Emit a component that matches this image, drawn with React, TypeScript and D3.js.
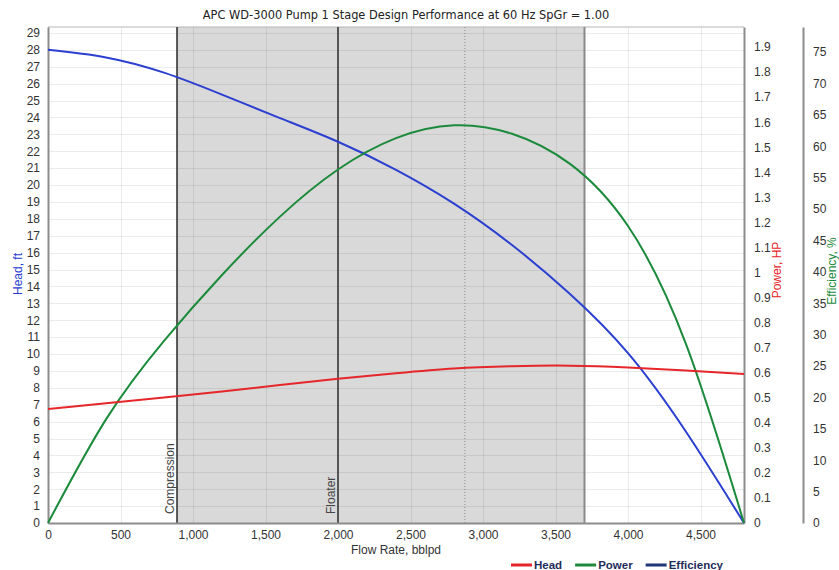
import React, { useEffect, useRef } from "react";
import * as d3 from "d3";

const flowRate = [0, 400, 800, 1200, 1600, 2000, 2400, 2800, 3200, 3600, 4000, 4400, 4800];
const headFt = [28.0, 27.55, 26.65, 25.35, 23.96, 22.56, 20.9, 18.9, 16.45, 13.55, 10.05, 5.4, 0];
const powerHp = [0.455, 0.478, 0.501, 0.525, 0.551, 0.576, 0.598, 0.617, 0.626, 0.628, 0.621, 0.609, 0.595];
const efficiencyPct = [0, 16.5, 29.0, 39.5, 48.8, 56.3, 61.3, 63.35, 62.0, 57.2, 47.3, 28.5, 0];

const flowTicks = [0, 500, 1000, 1500, 2000, 2500, 3000, 3500, 4000, 4500];
const headTicks = d3.range(0, 30);
const powerTicks = d3.range(0, 20).map((d) => d / 10);
const effTicks = d3.range(0, 80, 5);

const markers = [
  { name: "Compression", flow: 890 },
  { name: "Floater", flow: 2000 },
];
const shadeRange = [890, 3700];
const bepFlow = 2875;

const legendItems = [
  { name: "Head", color: "#e3262b" },
  { name: "Power", color: "#1f8a3d" },
  { name: "Efficiency", color: "#1f3778" },
];

const font = "'Liberation Sans', Arial, sans-serif";

const App = () => {
  const ref = useRef<SVGSVGElement>(null);

  useEffect(() => {
    drawChart();
  }, []);

  const drawChart = () => {
    const svg = d3.select(ref.current);
    svg.selectAll("*").remove();

    const left = 48,
      right = 744,
      top = 27,
      bottom = 523;

    const x = d3.scaleLinear().domain([0, 4800]).range([left, right]);
    const yHead = d3.scaleLinear().domain([0, 29.35]).range([bottom, top]);
    const yPower = d3.scaleLinear().domain([0, 1.98]).range([bottom, top]);
    const yEff = d3.scaleLinear().domain([0, 79]).range([bottom, top]);

    // background + shaded operating window
    svg.append("rect").attr("x", left).attr("y", top).attr("width", right - left).attr("height", bottom - top).attr("fill", "#fff");
    svg
      .append("rect")
      .attr("x", x(shadeRange[0]))
      .attr("y", top)
      .attr("width", x(shadeRange[1]) - x(shadeRange[0]))
      .attr("height", bottom - top)
      .attr("fill", "#d9d9d9");

    // grid
    const grid = svg.append("g").attr("stroke", "#000").attr("stroke-opacity", 0.08).attr("stroke-width", 1);
    headTicks.forEach((t) => {
      grid.append("line").attr("x1", left).attr("x2", right).attr("y1", Math.round(yHead(t)) + 0.5).attr("y2", Math.round(yHead(t)) + 0.5);
    });
    flowTicks.forEach((t) => {
      grid.append("line").attr("x1", Math.round(x(t)) + 0.5).attr("x2", Math.round(x(t)) + 0.5).attr("y1", top).attr("y2", bottom);
    });

    // frame
    svg.append("line").attr("x1", left).attr("x2", right).attr("y1", top).attr("y2", top).attr("stroke", "#b5b5b5");
    svg.append("line").attr("x1", x(shadeRange[1])).attr("x2", x(shadeRange[1])).attr("y1", top).attr("y2", bottom).attr("stroke", "#8a8a8a").attr("stroke-width", 2);
    svg
      .append("line")
      .attr("x1", x(bepFlow))
      .attr("x2", x(bepFlow))
      .attr("y1", top)
      .attr("y2", bottom)
      .attr("stroke", "#8a8a8a")
      .attr("stroke-dasharray", "1,2");

    markers.forEach((m) => {
      svg.append("line").attr("x1", x(m.flow)).attr("x2", x(m.flow)).attr("y1", top).attr("y2", bottom).attr("stroke", "#555").attr("stroke-width", 2);
      svg
        .append("text")
        .attr("transform", `translate(${x(m.flow) - 3},${bottom - 9}) rotate(-90)`)
        .attr("font-family", font)
        .attr("font-size", 12)
        .attr("fill", "#444")
        .text(m.name);
    });

    // axes
    const styleAxis = (g) => {
      g.selectAll("path").attr("stroke", "#8c8c8c").attr("stroke-width", 2);
      g.selectAll("line").remove();
      g.selectAll("text").attr("font-family", font).attr("font-size", 12).attr("fill", "#333");
    };

    svg
      .append("g")
      .attr("transform", `translate(0,${bottom})`)
      .call(d3.axisBottom(x).tickValues(flowTicks).tickFormat(d3.format(",")).tickSizeOuter(0).tickPadding(1))
      .call(styleAxis);
    svg
      .append("g")
      .attr("transform", `translate(${left},0)`)
      .call(d3.axisLeft(yHead).tickValues(headTicks).tickSizeOuter(0).tickPadding(2))
      .call(styleAxis);
    svg
      .append("g")
      .attr("transform", `translate(${right},0)`)
      .call(d3.axisRight(yPower).tickValues(powerTicks).tickFormat((d) => (d === 0 ? "0" : d3.format("")(+d.toFixed(1)))).tickSizeOuter(0).tickPadding(4))
      .call(styleAxis);
    svg
      .append("g")
      .attr("transform", `translate(803,0)`)
      .call(d3.axisRight(yEff).tickValues(effTicks).tickSizeOuter(0).tickPadding(4))
      .call(styleAxis);

    // curves
    const rows = flowRate.map((f, i) => ({ f, h: headFt[i], p: powerHp[i], e: efficiencyPct[i] }));
    const series = [
      { y: (d) => yHead(d.h), color: "#2b3fd0" },
      { y: (d) => yEff(d.e), color: "#1b8a3b" },
      { y: (d) => yPower(d.p), color: "#e5262a" },
    ];
    series.forEach((s) => {
      svg
        .append("path")
        .datum(rows)
        .attr("fill", "none")
        .attr("stroke", s.color)
        .attr("stroke-width", 2)
        .attr("d", d3.line().x((d) => x(d.f)).y(s.y).curve(d3.curveNatural));
    });

    // titles
    svg
      .append("text")
      .attr("x", 406)
      .attr("y", 19)
      .attr("text-anchor", "middle")
      .attr("font-family", "'DejaVu Sans', Verdana, sans-serif")
      .attr("font-size", 11.4)
      .attr("fill", "#222")
      .text("APC WD-3000 Pump 1 Stage Design Performance at 60 Hz SpGr = 1.00");
    svg
      .append("text")
      .attr("x", 396)
      .attr("y", 554)
      .attr("text-anchor", "middle")
      .attr("font-family", font)
      .attr("font-size", 12)
      .attr("fill", "#333")
      .text("Flow Rate, bblpd");

    const yTitle = (tx, ty, text, color) =>
      svg
        .append("text")
        .attr("transform", `translate(${tx},${ty}) rotate(-90)`)
        .attr("text-anchor", "middle")
        .attr("font-family", font)
        .attr("font-size", 12)
        .attr("fill", color)
        .text(text);
    yTitle(22, 274, "Head, ft", "#2a3ccf");
    yTitle(781, 270, "Power, HP", "#e5262a");
    yTitle(836, 271, "Efficiency, %", "#1b8a3b");

    // legend
    let lx = 511;
    legendItems.forEach((item) => {
      svg.append("line").attr("x1", lx).attr("x2", lx + 21).attr("y1", 565).attr("y2", 565).attr("stroke", item.color).attr("stroke-width", 3);
      const t = svg
        .append("text")
        .attr("x", lx + 23)
        .attr("y", 569)
        .attr("font-family", font)
        .attr("font-size", 11.5)
        .attr("font-weight", "bold")
        .attr("fill", "#1f2d5a")
        .text(item.name);
      lx += 23 + t.node().getComputedTextLength() + 13;
    });
  };

  return (
    <div>
      <svg ref={ref} width={839} height={570} style={{ position: "absolute", left: 0, top: 0, background: "#fff" }}></svg>
    </div>
  );
};

export default App;
